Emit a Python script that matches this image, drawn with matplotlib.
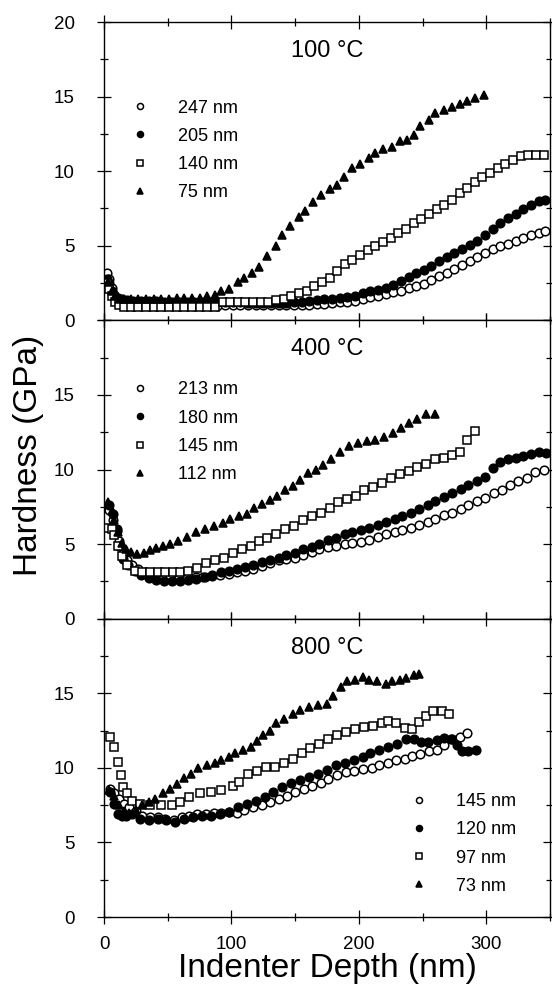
import numpy as np
import matplotlib
matplotlib.use("Agg")
import matplotlib.pyplot as plt

plt.rcParams['font.family'] = ['Liberation Sans', 'DejaVu Sans']

# ---- 100 C panel ----
d100_247 = [2, 4, 6, 8, 11, 14, 18, 23, 29, 35, 41, 47, 53, 59, 65, 71, 77, 83, 89, 95,
            101, 107, 113, 119, 125, 131, 137, 143, 149, 155, 161, 167, 173, 179, 185, 191,
            197, 203, 209, 215, 221, 227, 233, 239, 245, 251, 257, 263, 269, 275, 281, 287,
            293, 299, 305, 311, 317, 323, 329, 335, 341, 346]
h100_247 = [3.2, 2.8, 2.2, 1.7, 1.3, 1.1, 1.0, 0.95, 0.95, 0.95, 0.95, 0.95, 0.95, 0.95, 0.95,
            0.95, 0.95, 0.95, 0.95, 1.0, 1.0, 1.0, 1.0, 1.0, 1.0, 1.0, 1.0, 1.0, 1.0, 1.05,
            1.05, 1.1, 1.1, 1.15, 1.2, 1.25, 1.3, 1.4, 1.55, 1.65, 1.75, 1.9, 2.0, 2.15, 2.3,
            2.45, 2.7, 2.95, 3.2, 3.45, 3.7, 4.0, 4.25, 4.5, 4.75, 5.0, 5.15, 5.3, 5.5, 5.7,
            5.85, 6.0]
d100_205 = d100_247
h100_205 = [2.8, 2.5, 2.0, 1.7, 1.5, 1.4, 1.35, 1.3, 1.3, 1.3, 1.3, 1.25, 1.25, 1.25, 1.2,
            1.2, 1.2, 1.2, 1.2, 1.2, 1.2, 1.2, 1.15, 1.15, 1.15, 1.15, 1.15, 1.15, 1.2, 1.2,
            1.3, 1.35, 1.4, 1.45, 1.5, 1.55, 1.65, 1.8, 1.95, 2.05, 2.2, 2.4, 2.65, 2.9, 3.15,
            3.4, 3.65, 3.95, 4.25, 4.5, 4.8, 5.05, 5.35, 5.75, 6.1, 6.55, 6.85, 7.15, 7.45, 7.75,
            8.0, 8.1]
d100_140 = [2, 4, 6, 9, 12, 16, 21, 27, 33, 39, 45, 51, 57, 63, 69, 75, 81, 87, 93, 99,
            105, 111, 117, 123, 129, 135, 141, 147, 153, 159, 165, 171, 177, 183, 189, 195,
            201, 207, 213, 219, 225, 231, 237, 243, 249, 255, 261, 267, 273, 279, 285, 291,
            297, 303, 309, 315, 321, 327, 333, 339, 345]
h100_140 = [2.5, 2.1, 1.6, 1.2, 1.0, 0.9, 0.9, 0.9, 0.9, 0.9, 0.9, 0.9, 0.9, 0.9, 0.9,
            0.9, 0.9, 0.9, 1.2, 1.2, 1.2, 1.2, 1.2, 1.2, 1.25, 1.35, 1.4, 1.6, 1.8, 2.0,
            2.3, 2.55, 2.85, 3.3, 3.75, 4.05, 4.4, 4.7, 5.0, 5.25, 5.5, 5.85, 6.15, 6.5, 6.8,
            7.1, 7.45, 7.75, 8.1, 8.55, 8.9, 9.3, 9.6, 9.9, 10.2, 10.5, 10.75, 11.0, 11.1, 11.1,
            11.1]
d100_75 = [3, 6, 9, 12, 16, 21, 27, 33, 39, 45, 51, 57, 63, 69, 75, 81, 87, 92, 98, 105,
           110, 116, 122, 128, 135, 140, 146, 153, 158, 164, 170, 177, 183, 188, 195, 201,
           208, 213, 219, 226, 232, 238, 243, 248, 255, 260, 267, 273, 279, 285, 291, 298]
h100_75 = [2.6, 2.0, 1.6, 1.45, 1.4, 1.4, 1.4, 1.45, 1.45, 1.45, 1.45, 1.5, 1.5, 1.5, 1.5,
           1.6, 1.7, 1.95, 2.1, 2.6, 2.85, 3.2, 3.6, 4.3, 5.0, 5.7, 6.3, 6.9, 7.3, 7.9,
           8.4, 8.8, 9.1, 9.6, 10.2, 10.5, 10.9, 11.2, 11.5, 11.6, 12.0, 12.1, 12.4, 13.0, 13.4,
           13.9, 14.1, 14.3, 14.5, 14.7, 14.9, 15.1]

# ---- 400 C panel ----
d400_213 = [4, 7, 10, 12, 15, 18, 22, 27, 33, 39, 46, 52, 59, 65, 72, 78, 85, 91, 98, 104,
            111, 117, 124, 130, 137, 143, 150, 156, 163, 169, 176, 182, 189, 195, 202, 208,
            215, 221, 228, 234, 241, 247, 254, 260, 267, 273, 280, 286, 293, 299, 306, 312,
            319, 325, 332, 338, 345]
h400_213 = [7.3, 6.6, 5.9, 5.2, 4.4, 3.9, 3.6, 3.3, 3.1, 3.0, 2.9, 2.8, 2.75, 2.75, 2.8,
            2.8, 2.85, 2.9, 3.0, 3.1, 3.2, 3.35, 3.55, 3.7, 3.9, 4.0, 4.1, 4.3, 4.45, 4.65,
            4.8, 4.9, 5.0, 5.05, 5.15, 5.3, 5.5, 5.65, 5.8, 5.95, 6.1, 6.25, 6.5, 6.7, 6.95,
            7.1, 7.35, 7.6, 7.9, 8.1, 8.4, 8.65, 8.95, 9.2, 9.45, 9.8, 10.0]
d400_180 = [4, 7, 10, 12, 15, 19, 24, 29, 35, 41, 47, 53, 60, 66, 72, 79, 85, 92, 98, 104,
            111, 117, 124, 130, 137, 143, 150, 156, 163, 169, 176, 182, 189, 195, 202, 208,
            215, 221, 228, 234, 241, 247, 254, 260, 267, 273, 280, 286, 293, 299, 305, 311,
            317, 323, 329, 335, 341, 347]
h400_180 = [7.6, 7.0, 6.0, 4.9, 4.0, 3.6, 3.2, 2.95, 2.75, 2.6, 2.55, 2.55, 2.55, 2.6, 2.65,
            2.8, 2.9, 3.1, 3.2, 3.3, 3.45, 3.6, 3.8, 3.95, 4.1, 4.25, 4.4, 4.65, 4.8, 5.0,
            5.25, 5.4, 5.65, 5.8, 5.95, 6.1, 6.3, 6.5, 6.7, 6.85, 7.1, 7.35, 7.65, 7.9, 8.15,
            8.4, 8.7, 8.95, 9.2, 9.5, 10.1, 10.5, 10.7, 10.75, 10.9, 11.05, 11.2, 11.1]
d400_145 = [3, 6, 8, 11, 14, 18, 24, 30, 36, 42, 48, 54, 60, 66, 73, 80, 87, 94, 101, 108,
            115, 122, 128, 135, 142, 149, 156, 163, 170, 177, 184, 191, 198, 204, 211, 218,
            225, 232, 239, 246, 253, 260, 267, 273, 279, 285, 291]
h400_145 = [6.1, 6.0, 5.6, 4.9, 4.2, 3.6, 3.2, 3.1, 3.1, 3.1, 3.1, 3.1, 3.1, 3.2, 3.4,
            3.7, 3.9, 4.1, 4.4, 4.7, 4.9, 5.2, 5.4, 5.7, 6.0, 6.2, 6.6, 6.9, 7.1, 7.4,
            7.8, 8.0, 8.2, 8.6, 8.8, 9.1, 9.4, 9.7, 9.9, 10.2, 10.4, 10.7, 10.8, 11.0, 11.2,
            12.0, 12.6]
d400_112 = [3, 6, 8, 11, 14, 17, 21, 26, 31, 36, 41, 46, 52, 58, 65, 72, 79, 86, 93, 99,
            106, 112, 118, 124, 130, 136, 142, 148, 154, 160, 166, 172, 178, 185, 192, 199,
            206, 213, 220, 227, 233, 239, 246, 253, 260]
h400_112 = [7.8, 7.2, 6.6, 5.8, 5.1, 4.7, 4.45, 4.35, 4.4, 4.6, 4.75, 4.9, 5.0, 5.2, 5.5,
            5.8, 6.0, 6.2, 6.4, 6.65, 6.85, 7.05, 7.4, 7.7, 7.95, 8.2, 8.6, 8.9, 9.3, 9.75,
            10.0, 10.3, 10.7, 11.2, 11.6, 11.8, 11.9, 12.0, 12.2, 12.45, 12.8, 13.1, 13.4, 13.7, 13.7]

# ---- 800 C panel ----
d800_145 = [5, 8, 12, 16, 20, 25, 30, 36, 42, 48, 55, 61, 67, 73, 80, 86, 92, 98, 104, 110,
            117, 124, 130, 137, 144, 150, 157, 163, 170, 176, 183, 190, 196, 203, 210, 216,
            223, 229, 236, 242, 248, 255, 261, 267, 273, 279, 285]
h800_145 = [8.6, 8.3, 7.9, 7.6, 7.4, 7.1, 6.8, 6.7, 6.7, 6.6, 6.5, 6.7, 6.8, 6.9, 6.9,
            7.0, 7.0, 7.05, 7.0, 7.2, 7.4, 7.5, 7.7, 7.9, 8.1, 8.4, 8.6, 8.8, 9.0, 9.25,
            9.5, 9.7, 9.8, 9.9, 10.0, 10.2, 10.35, 10.5, 10.6, 10.8, 10.95, 11.1, 11.2, 11.5, 11.9,
            12.1, 12.35]
d800_120 = [5, 8, 11, 14, 17, 22, 28, 35, 42, 49, 56, 63, 70, 77, 84, 91, 98, 105, 112, 119,
            126, 133, 140, 147, 154, 161, 168, 175, 182, 189, 196, 203, 209, 216, 223, 230,
            237, 243, 249, 254, 261, 267, 272, 277, 281, 286, 292]
h800_120 = [8.4, 7.6, 6.9, 6.8, 6.8, 6.9, 6.6, 6.5, 6.6, 6.5, 6.4, 6.6, 6.7, 6.8, 6.8,
            6.9, 7.05, 7.4, 7.6, 7.8, 8.05, 8.4, 8.7, 8.95, 9.2, 9.4, 9.6, 9.85, 10.2, 10.3,
            10.5, 10.7, 11.0, 11.2, 11.4, 11.6, 11.9, 11.9, 11.7, 11.7, 11.85, 12.0, 11.9, 11.5, 11.1,
            11.1, 11.2]
d800_97 = [5, 8, 11, 13, 15, 18, 22, 28, 36, 45, 53, 60, 67, 75, 84, 92, 101, 106, 113, 120,
           127, 134, 141, 148, 155, 162, 169, 176, 183, 190, 197, 204, 211, 218, 223, 229,
           236, 242, 247, 253, 258, 265, 271]
h800_97 = [12.1, 11.4, 10.4, 9.5, 8.7, 8.3, 7.8, 7.6, 7.5, 7.5, 7.5, 7.7, 8.05, 8.3, 8.4,
           8.5, 8.8, 9.05, 9.6, 9.8, 10.05, 10.05, 10.3, 10.6, 11.0, 11.3, 11.6, 11.9, 12.2, 12.4,
           12.6, 12.75, 12.8, 13.0, 13.15, 13.0, 12.7, 12.6, 13.1, 13.5, 13.8, 13.8, 13.6]
d800_73 = [4, 8, 12, 16, 20, 25, 30, 35, 40, 46, 52, 57, 63, 68, 74, 81, 87, 92, 98, 103,
           109, 115, 120, 125, 130, 135, 141, 148, 154, 161, 168, 175, 180, 186, 191, 197,
           203, 208, 214, 221, 226, 232, 237, 243, 247]
h800_73 = [8.5, 8.1, 7.5, 7.1, 7.0, 7.2, 7.5, 7.7, 7.9, 8.3, 8.6, 8.9, 9.3, 9.6, 10.0,
           10.2, 10.3, 10.5, 10.7, 11.0, 11.2, 11.4, 11.8, 12.2, 12.5, 13.0, 13.3, 13.6, 13.9, 14.1,
           14.2, 14.3, 14.8, 15.4, 15.8, 15.9, 16.1, 15.9, 15.8, 15.6, 15.8, 15.9, 16.0, 16.2, 16.3]

titles = ["100 \u00b0C", "400 \u00b0C", "800 \u00b0C"]
labels100 = ["247 nm", "205 nm", "140 nm", "75 nm"]
labels400 = ["213 nm", "180 nm", "145 nm", "112 nm"]
labels800 = ["145 nm", "120 nm", "97 nm", "73 nm"]

panels = [
    (titles[0], [(d100_247, h100_247), (d100_205, h100_205), (d100_140, h100_140), (d100_75, h100_75)], labels100),
    (titles[1], [(d400_213, h400_213), (d400_180, h400_180), (d400_145, h400_145), (d400_112, h400_112)], labels400),
    (titles[2], [(d800_145, h800_145), (d800_120, h800_120), (d800_97, h800_97), (d800_73, h800_73)], labels800),
]
styles = [dict(marker='o', mfc='white', mec='black'),
          dict(marker='o', mfc='black', mec='black'),
          dict(marker='s', mfc='white', mec='black'),
          dict(marker='^', mfc='black', mec='black')]
legend_anchor = [(0.06, 0.74), (0.06, 0.795), (0.685, 0.415)]
yticklabels = [["0", "5", "10", "15", "20"], ["0", "5", "10", "15", ""], ["0", "5", "10", "15", ""]]

fig = plt.figure(figsize=(5.52, 9.9), dpi=100)
left, right = 104 / 552, 550 / 552
top, bottom = 1 - 22 / 990, 1 - 917 / 990
ph = (top - bottom) / 3

axes = []
for i, (title, series, labs) in enumerate(panels):
    ax = fig.add_axes([left, top - (i + 1) * ph, right - left, ph])
    axes.append(ax)
    for (x, y), st, lab in zip(series, styles, labs):
        ax.plot(x, y, ls='none', ms=6.2, mew=1.1, label=lab, **st)
    ax.set_xlim(0, 350)
    ax.set_ylim(0, 20)
    ax.set_xticks([0, 100, 200, 300])
    ax.set_xticks([50, 150, 250, 350], minor=True)
    ax.set_yticks([0, 5, 10, 15, 20])
    ax.set_yticks([2.5, 7.5, 12.5, 17.5], minor=True)
    ax.set_yticklabels(yticklabels[i])
    ax.tick_params(which='both', direction='inout', top=True, right=True,
                   labelsize=13.5, width=0.9)
    ax.tick_params(which='major', length=10)
    ax.tick_params(which='minor', length=6)
    ax.tick_params(axis='y', which='major', pad=16)
    ax.tick_params(axis='x', which='major', pad=9)
    for s in ax.spines.values():
        s.set_linewidth(1.0)
    if i < 2:
        ax.tick_params(labelbottom=False)
    ax.text(0.5, 0.903, title, transform=ax.transAxes, ha='center', va='center', fontsize=17)
    ax.legend(loc='upper left', bbox_to_anchor=legend_anchor[i], frameon=False, fontsize=13,
              handlelength=1.0, handletextpad=1.6, labelspacing=0.62, markerscale=0.7,
              borderpad=0, borderaxespad=0)

axes[-1].set_xlabel("Indenter Depth (nm)", fontsize=24, labelpad=0)
fig.text(0.052, 0.54, "Hardness (GPa)", rotation=90, ha='center', va='center', fontsize=24)

fig.savefig("out.png", dpi=100)
